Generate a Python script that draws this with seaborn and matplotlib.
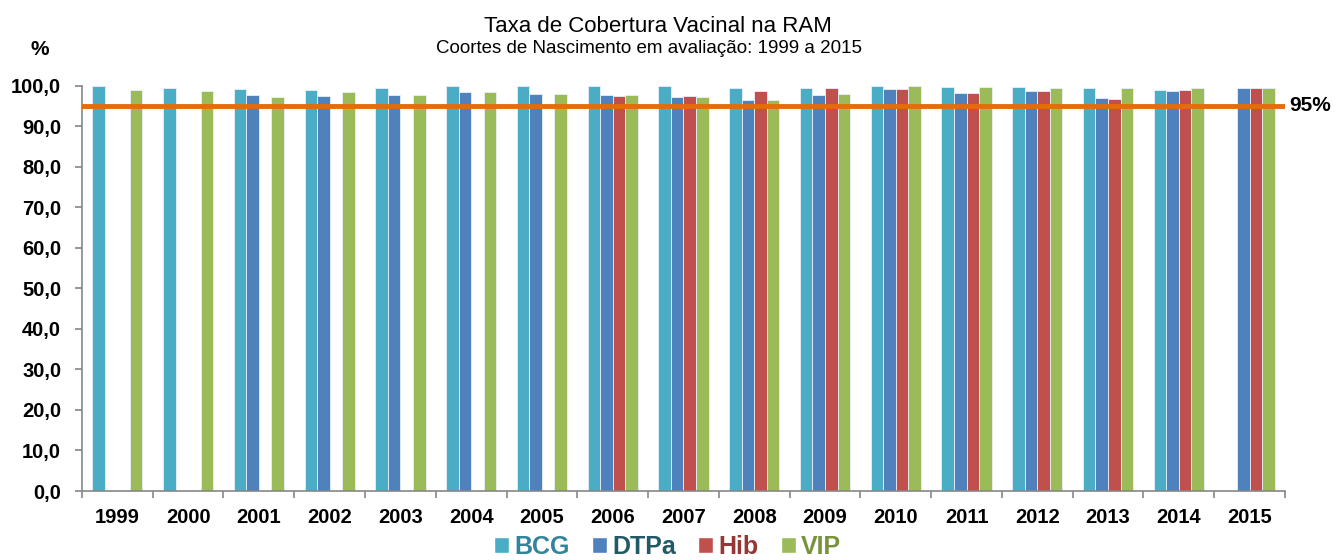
import numpy as np
import pandas as pd
import matplotlib
matplotlib.use("Agg")
import matplotlib.pyplot as plt
from matplotlib.patches import Patch
from matplotlib.ticker import FixedLocator, FuncFormatter
import seaborn as sns

years = [str(y) for y in range(1999, 2016)]
bcg  = [99.9, 99.4, 99.2, 98.9, 99.4, 99.8, 99.8, 99.8, 99.8, 99.5, 99.4, 99.8, 99.6, 99.6, 99.5, 98.9, np.nan]
dtpa = [np.nan, np.nan, 97.6, 97.4, 97.7, 98.5, 98.0, 97.6, 97.3, 96.5, 97.7, 99.1, 98.1, 98.7, 96.9, 98.7, 99.5]
hib  = [np.nan, np.nan, np.nan, np.nan, np.nan, np.nan, np.nan, 97.4, 97.4, 98.8, 99.4, 99.1, 98.1, 98.7, 96.8, 98.9, 99.5]
vip  = [98.9, 98.7, 97.2, 98.5, 97.6, 98.4, 98.0, 97.6, 97.3, 96.5, 97.9, 99.8, 99.6, 99.4, 99.5, 99.4, 99.5]
vaccines = ["BCG", "DTPa", "Hib", "VIP"]
target = 95.0
yticks = list(range(0, 101, 10))

bar_colors = ["#4BACC6", "#4F81BD", "#C0504D", "#9BBB59"]
text_colors = ["#31849B", "#215968", "#953735", "#77933C"]

df = pd.DataFrame({"Ano": years, "BCG": bcg, "DTPa": dtpa, "Hib": hib, "VIP": vip})
long = df.melt(id_vars="Ano", var_name="Vacina", value_name="Taxa")

sns.set_style("white")
plt.rcParams["font.family"] = ["Liberation Sans", "DejaVu Sans"]
plt.rcParams["text.color"] = "black"
plt.rcParams["xtick.color"] = "black"
plt.rcParams["ytick.color"] = "black"

fig = plt.figure(figsize=(13.35, 5.6), dpi=100)
ax = fig.add_axes([0.0614, 0.1232, 0.9011, 0.7238])

sns.barplot(data=long, x="Ano", y="Taxa", hue="Vacina", hue_order=vaccines,
            order=years, palette=bar_colors, saturation=1, width=0.71, ax=ax,
            edgecolor="#E8F0F8", linewidth=0.6, legend=False, errorbar=None)

ax.axhline(target, color="#E46C0A", lw=3.5, zorder=5)
ax.text(1.004, target, "95%", transform=ax.get_yaxis_transform(),
        ha="left", va="center", fontsize=15, fontweight="bold")

ax.set_ylim(0, 100)
ax.set_xlim(-0.5, len(years) - 0.5)
ax.set_yticks(yticks)
ax.yaxis.set_major_formatter(FuncFormatter(lambda v, p: f"{v:.1f}".replace(".", ",")))
ax.set_xlabel("")
ax.set_ylabel("")
ax.xaxis.set_minor_locator(FixedLocator(np.arange(-0.5, len(years), 1.0)))
ax.tick_params(axis="x", which="major", length=0, pad=12, labelsize=14.5)
ax.tick_params(axis="x", which="minor", length=5, color="#868686", width=1.2, bottom=True)
ax.tick_params(axis="y", which="major", length=5, color="#868686", width=1.2, left=True,
               labelsize=14.5, pad=10)
for lab in ax.get_xticklabels() + ax.get_yticklabels():
    lab.set_fontweight("bold")
for s in ["top", "right"]:
    ax.spines[s].set_visible(False)
for s in ["left", "bottom"]:
    ax.spines[s].set_color("#868686")
    ax.spines[s].set_linewidth(1.2)

fig.text(0.493, 0.9434, "Taxa de Cobertura Vacinal na RAM", ha="center", va="baseline", fontsize=16)
fig.text(0.486, 0.905, "Coortes de Nascimento em avaliação: 1999 a 2015", ha="center", va="baseline", fontsize=13.5)
fig.text(0.030, 0.902, "%", ha="center", va="baseline", fontsize=15, fontweight="bold")

handles = [Patch(facecolor=c, edgecolor="white") for c in bar_colors]
leg = fig.legend(handles, vaccines, loc="center", bbox_to_anchor=(0.5, 0.024),
                 ncol=4, frameon=False, fontsize=18, handlelength=0.6, handleheight=0.6,
                 handletextpad=0.2, columnspacing=0.9, borderpad=0)
for t, c in zip(leg.get_texts(), text_colors):
    t.set_color(c)
    t.set_fontweight("bold")

fig.savefig("out.png", dpi=100)
